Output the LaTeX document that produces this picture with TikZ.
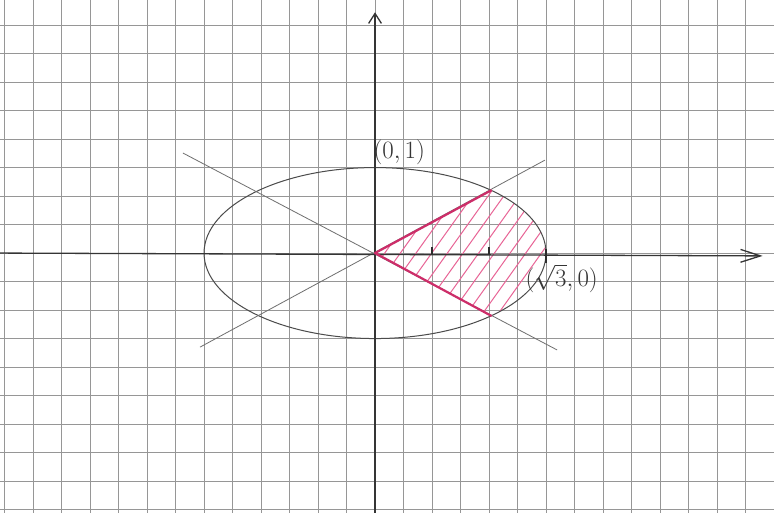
\documentclass[tikz,border=0pt]{standalone}
\usetikzlibrary{arrows.meta}
\definecolor{gridgray}{RGB}{150,150,150}
\definecolor{pencil}{RGB}{75,75,75}
\definecolor{hatchpink}{RGB}{232,100,150}
\definecolor{raypink}{RGB}{205,45,105}
\tikzset{
  axisline/.style={line width=1.3pt,pencil!70!black},
  curveline/.style={line width=1pt,pencil},
  rayline/.style={line width=0.8pt,pencil!80},
  hatchline/.style={line width=1pt,hatchpink},
  pinkray/.style={line width=2.2pt,raypink,line cap=round},
  tickmark/.style={line width=1.4pt,pencil!60!black},
  label/.style={font=\fontsize{26}{30}\selectfont,pencil!70!black}
}
\begin{document}
\begin{tikzpicture}
    % Paper and grid
    \useasboundingbox (-13.16,-9.12) rectangle (14.0,8.88);
    \fill[white] (-13.16,-9.12) rectangle (14.0,8.88);
    \begin{scope}
        \clip (-13.16,-9.12) rectangle (14.0,8.88);
        \draw[gridgray,line width=1pt] (-14,-10) grid (15,9);
    \end{scope}

    % Intersections of the lines with the ellipse
    \coordinate (O) at (0,0);
    \coordinate (P) at (47.2:6 and 3);
    \coordinate (Q) at (-47.2:6 and 3);

    % Hatched region
    \begin{scope}
        \clip (O) -- (P) arc[start angle=47.2,end angle=-47.2,x radius=6,y radius=3] -- cycle;
        \foreach \s in {-4,-3.45,...,7} {
            \draw[hatchline] (\s,-3) -- ++(54.5:8);
        }
    \end{scope}

    % Ellipse
    \draw[curveline] (O) ellipse (6 and 3);

    % Lines through the origin
    \draw[rayline] (-6.74,3.51) -- (6.39,-3.40);
    \draw[rayline] (-6.14,-3.30) -- (5.96,3.26);

    % Axes
    \draw[axisline,-{Straight Barb[length=7mm,width=4.5mm]}] (-13.2,0) -- (13.6,-0.1);
    \draw[axisline,-{Straight Barb[length=3.5mm,width=4.5mm]}] (0,-9.2) -- (0,8.45);

    % Ticks
    \draw[tickmark] (2,0.2) -- (2,-0.05);
    \draw[tickmark] (4,0.2) -- (4,-0.05);
    \draw[tickmark] (6,0.15) -- (6,-0.35);

    % Pink boundary rays
    \draw[pinkray] (O) -- (P);
    \draw[pinkray] (O) -- (Q);

    % Labels
    \node[label] (lblTop) at (0.85,3.55) {$(0,1)$};
    \node[label] (lblRight) at (6.55,-0.9) {$(\sqrt{3},0)$};
\end{tikzpicture}
\end{document}
